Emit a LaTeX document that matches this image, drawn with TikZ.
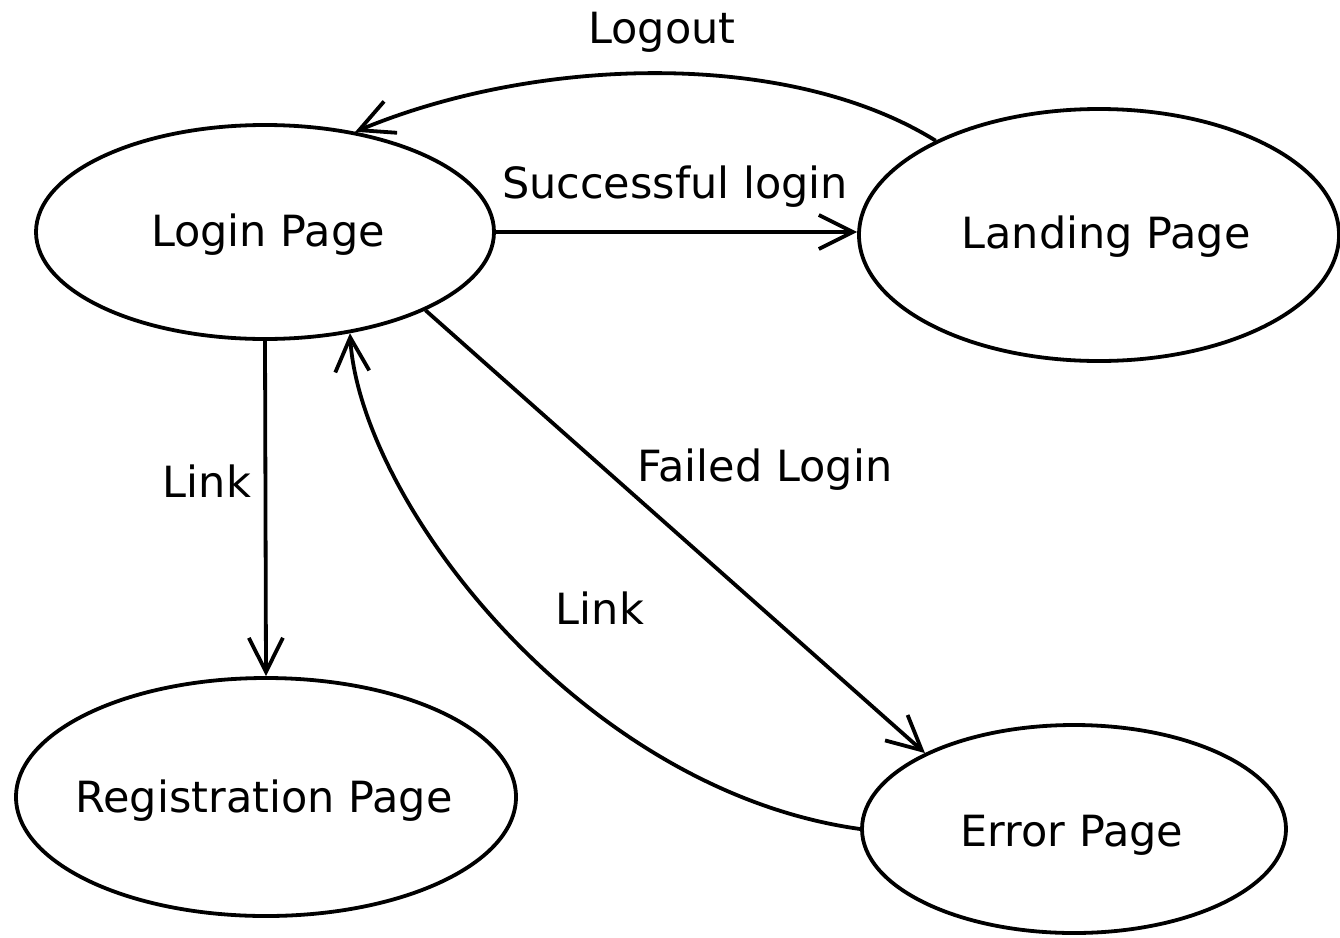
\documentclass[tikz,border=0pt]{standalone}
\usepackage{fontspec}
\setmainfont{DejaVu Sans}
\usetikzlibrary{shapes.geometric,arrows.meta}
\tikzset{
  page/.style={draw, ellipse, line width=3.8pt, inner sep=0pt},
  trans/.style={line width=3.8pt, -{Straight Barb[length=34pt,width=34pt]}},
  lbl/.style={anchor=base, inner sep=0pt, font=\fontsize{43}{50}\selectfont},
}
\begin{document}
\begin{tikzpicture}[x=1pt, y=-1pt]
\useasboundingbox (0,0) rectangle (1340,937);

% pages
\node[page, minimum width=458pt, minimum height=214pt] (login) at (265,232) {};
\node[page, minimum width=480pt, minimum height=252pt] (land)  at (1099,235) {};
\node[page, minimum width=500pt, minimum height=238pt] (reg)   at (266,797) {};
\node[page, minimum width=424pt, minimum height=208pt] (err)   at (1074,829) {};

% page titles
\node[lbl] (tlogin) at (268,246)  {Login Page};
\node[lbl] (tland)  at (1106,248) {Landing Page};
\node[lbl] (treg)   at (264,812)  {Registration Page};
\node[lbl] (terr)   at (1072,846) {Error Page};

% transitions
\draw[trans] (login.east) -- (land.west |- login.east);
\draw[trans] (land.150) .. controls (790,50) and (540,55) .. (login.48);
\draw[trans] (login.south) -- (reg.north);
\draw[trans] (login.-26) -- (err.153);
\draw[trans] (err.180) .. controls (580,790) and (360,500) .. (login.-50);

% transition labels
\node[lbl] (lsucc)   at (675,198) {Successful login};
\node[lbl] (llogout) at (662,43)  {Logout};
\node[lbl] (lreg)    at (207,497) {Link};
\node[lbl] (lfail)   at (765,481) {Failed Login};
\node[lbl] (lback)   at (600,624) {Link};
\end{tikzpicture}
\end{document}
